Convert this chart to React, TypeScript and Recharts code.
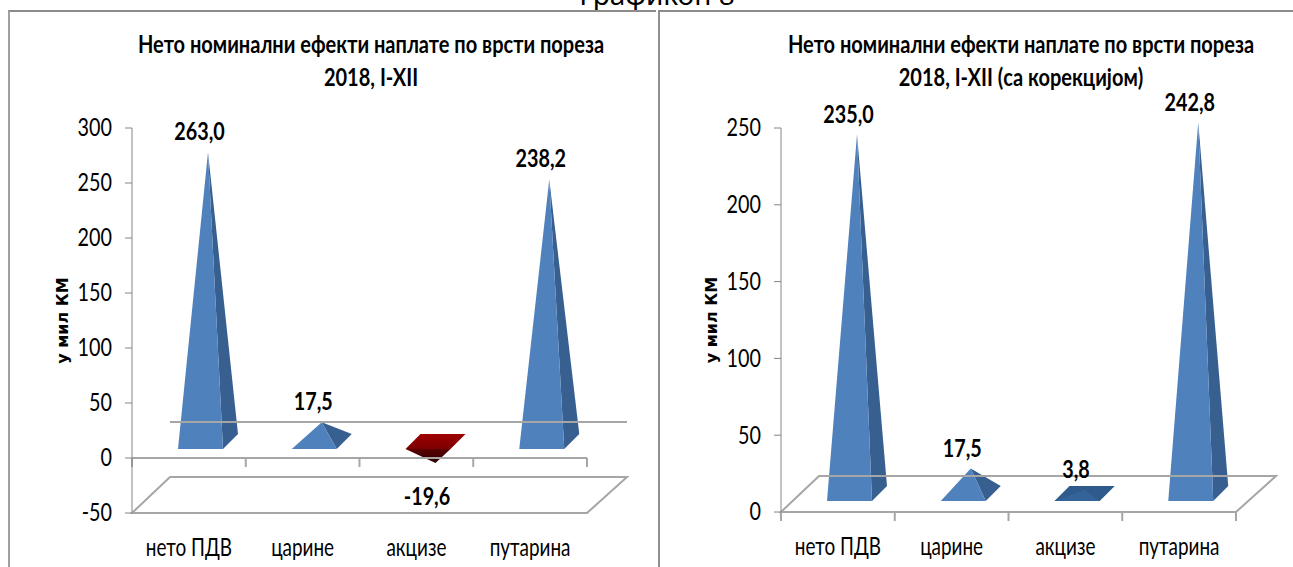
import React from 'react';
import { BarChart, Bar, XAxis, YAxis, ReferenceLine, LabelList } from 'recharts';

const categories = ['нето ПДВ', 'царине', 'акцизе', 'путарина'];
const nominalValues = [263.0, 17.5, -19.6, 238.2];
const correctedValues = [235.0, 17.5, 3.8, 242.8];
const nominalTicks = [-50, 0, 50, 100, 150, 200, 250, 300];
const correctedTicks = [0, 50, 100, 150, 200, 250];

const FONT = "Lato, 'Liberation Sans', sans-serif";
const NARROW = 0.86;
const TALL = 1.1;
const GRID = '#a6a6a6';
const AXIS = '#868686';

const toRows = (values: number[]) => categories.map((name, i) => ({ name, value: values[i] }));
const pts = (list: number[][]) => list.map((p) => p.join(',')).join(' ');

// no condensed font is installed, so squeeze the text sideways
const NarrowText = ({ x, y, anchor, size, bold, children }: any) => (
  <text
    transform={`translate(${x},${y}) scale(${NARROW},${TALL})`}
    textAnchor={anchor}
    dominantBaseline="middle"
    fontFamily={FONT}
    fontWeight={bold ? 'bold' : 'normal'}
    fontSize={size}
    fill="#000"
  >
    {children}
  </text>
);

// Excel-style 3D pyramid, y is the tip and y + height is the zero line
const pyramid = (lift: number) => (props: any) => {
  const { x, y, width, height } = props;
  const x0 = x + 12;
  const base = y + height - lift;
  const fl = [x0, base];
  const fr = [x0 + width, base];
  const br = [x0 + width + 15, base - 15];
  const bl = [x0 + 15, base - 15];
  const apex = [x0 + width / 2 + 7.5, y - 16.5];

  if (height < 0) {
    return (
      <g>
        <polygon points={pts([fl, fr, br, bl])} fill="url(#redTop)" />
        <polygon points={pts([fl, fr, apex])} fill="url(#redFront)" />
      </g>
    );
  }
  const flat = height < 8;
  return (
    <g>
      {flat && <polygon points={pts([fl, fr, br, bl])} fill="#2f5a8c" />}
      <polygon points={pts([fr, br, apex])} fill={flat ? '#2f5a8c' : '#375f8f'} />
      <polygon points={pts([fl, fr, apex])} fill={flat ? '#34639a' : '#4f81bd'} />
    </g>
  );
};

const floorShape = (props: any) => {
  const { x1, x2, y1 } = props;
  return (
    <polygon
      points={pts([[x1, y1], [x2, y1], [x2 + 40, y1 - 36], [x1 + 38, y1 - 36]])}
      fill="none"
      stroke={GRID}
      strokeWidth={2}
    />
  );
};

const zeroShape = (props: any) => {
  const { x1, x2, y1 } = props;
  const step = (x2 - x1) / categories.length;
  return (
    <g stroke={GRID} strokeWidth={2}>
      <line x1={x1 + 38} x2={x2 + 40} y1={y1 - 36} y2={y1 - 36} />
      <line x1={x1} x2={x2} y1={y1} y2={y1} />
      {[0, 1, 2, 3, 4].map((i) => (
        <line key={i} x1={x1 + i * step} x2={x1 + i * step} y1={y1} y2={y1 + 9} />
      ))}
    </g>
  );
};

const valueLabel = (props: any) => {
  const { x, y, width, value } = props;
  const v = Number(value);
  return (
    <NarrowText x={x + width / 2 + 11} y={v < 0 ? y + 18.5 : y - 35} anchor="middle" size={23} bold>
      {v.toFixed(1).replace('.', ',')}
    </NarrowText>
  );
};

const xTick = (props: any) => (
  <NarrowText x={props.x} y={props.y + 17} anchor="middle" size={22}>
    {props.payload.value}
  </NarrowText>
);

const yTick = (props: any) => (
  <NarrowText x={props.x} y={props.y + 2} anchor="end" size={23}>
    {props.payload.value}
  </NarrowText>
);

const TaxChart = ({ values, ticks, lift, left, width, bottom }: any) => (
  <BarChart
    width={width}
    height={567}
    data={toRows(values)}
    margin={{ top: 128, right: width - left - 455, bottom, left: left - 75 }}
    style={{ position: 'absolute', left: 0, top: 0 }}
  >
    <defs>
      <linearGradient id="redTop" x1="0" y1="1" x2="0" y2="0">
        <stop offset="0%" stopColor="#7a0000" />
        <stop offset="100%" stopColor="#a00000" />
      </linearGradient>
      <linearGradient id="redFront" x1="0" y1="0" x2="0" y2="1">
        <stop offset="0%" stopColor="#5c0000" />
        <stop offset="100%" stopColor="#2a0000" />
      </linearGradient>
    </defs>
    <XAxis dataKey="name" interval={0} axisLine={false} tickLine={false} height={50} tick={xTick} tickMargin={14} />
    <YAxis
      width={75}
      domain={[ticks[0], ticks[ticks.length - 1]]}
      ticks={ticks}
      interval={0}
      stroke={AXIS}
      tickSize={7}
      tickMargin={13}
      tick={yTick}
      label={{
        value: 'у мил КМ',
        angle: -90,
        position: 'insideLeft',
        dx: 0,
        style: { fontFamily: "'DejaVu Sans', sans-serif", fontWeight: 'bold', fontSize: 16, fill: '#000', textAnchor: 'middle' },
      }}
    />
    <ReferenceLine y={ticks[0]} shape={floorShape} />
    <ReferenceLine y={0} shape={zeroShape} />
    <Bar dataKey="value" barSize={45} shape={pyramid(lift)} isAnimationActive={false}>
      <LabelList dataKey="value" content={valueLabel} />
    </Bar>
  </BarChart>
);

const titleStyle: React.CSSProperties = {
  position: 'absolute',
  width: 600,
  textAlign: 'center',
  fontFamily: FONT,
  fontWeight: 'bold',
  fontSize: 23,
  lineHeight: '30px',
  color: '#000',
  transform: `scale(${NARROW + 0.01},${TALL})`,
};

export default function App() {
  return (
    <div style={{ position: 'fixed', left: 0, top: 0, width: 1293, height: 567, overflow: 'hidden', background: '#fff' }}>
      <div style={{ position: 'absolute', top: -25, left: 0, width: 1314, textAlign: 'center', fontFamily: "'Noto Sans', sans-serif", fontSize: 28 }}>
        Графикон 8
      </div>

      <div style={{ position: 'absolute', left: 8, top: 10, width: 646, height: 570, borderTop: '2px solid #8c8c8c', borderLeft: '2px solid #a0a0a0' }} />
      <div style={{ position: 'absolute', left: 658, top: 10, width: 640, height: 570, borderTop: '2px solid #8c8c8c', borderLeft: '2px solid #909090' }} />

      <div style={{ position: 'absolute', left: 0, top: 0, width: 655, height: 567 }}>
        <TaxChart values={nominalValues} ticks={nominalTicks} lift={9} left={132} width={650} bottom={4} />
        <div style={{ ...titleStyle, left: 71, top: 30 }}>
          Нето номинални ефекти наплате по врсти пореза
          <br />
          2018, I-XII
        </div>
      </div>

      <div style={{ position: 'absolute', left: 660, top: 0, width: 633, height: 567 }}>
        <TaxChart values={correctedValues} ticks={correctedTicks} lift={11} left={121} width={630} bottom={5} />
        <div style={{ ...titleStyle, left: 61, top: 30 }}>
          Нето номинални ефекти наплате по врсти пореза
          <br />
          2018, I-XII (са корекцијом)
        </div>
      </div>
    </div>
  );
}
